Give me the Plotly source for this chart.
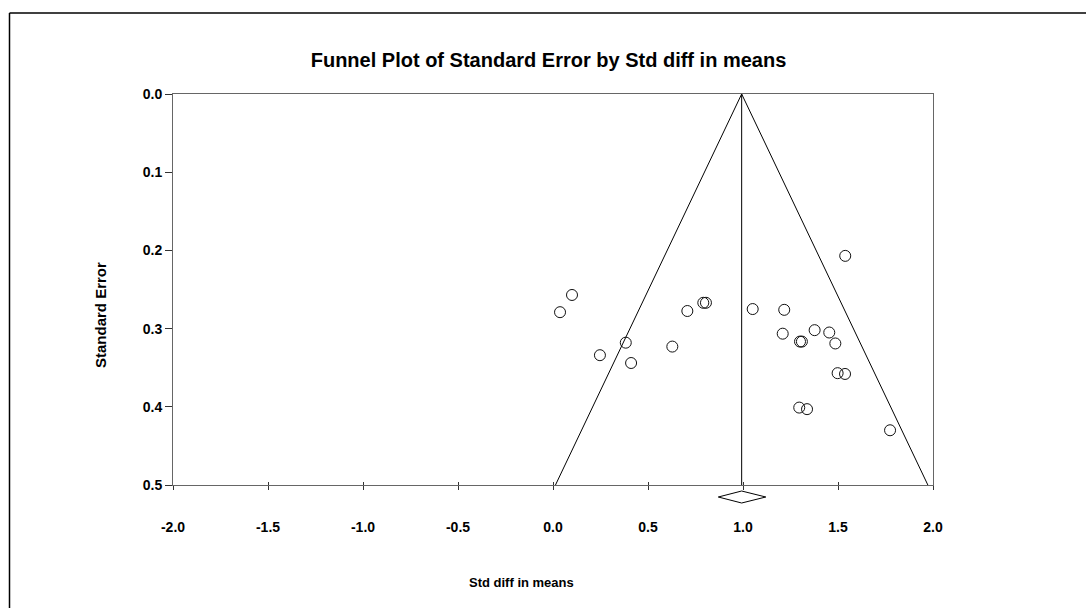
import plotly.graph_objects as go

# ---- data ----
std_diff = [0.10, 0.037, 0.247, 0.383, 0.411, 0.628,
            0.707, 0.791, 0.805, 1.051, 1.217, 1.209,
            1.30, 1.31, 1.377, 1.454, 1.486, 1.498, 1.537,
            1.296, 1.337, 1.774, 1.538]
std_err = [0.257, 0.279, 0.334, 0.318, 0.344, 0.323,
           0.2775, 0.267, 0.267, 0.275, 0.276, 0.3065,
           0.3166, 0.3166, 0.302, 0.305, 0.319, 0.357, 0.358,
           0.401, 0.403, 0.430, 0.207]
pooled_effect = 0.993
ci_low = 0.87
ci_high = 1.12
se_max = 0.5
z = 1.96
x_ticks = [-2.0, -1.5, -1.0, -0.5, 0.0, 0.5, 1.0, 1.5, 2.0]
x_tick_labels = ["-2.0", "-1.5", "-1.0", "-0.5", "0.0", "0.5", "1.0", "1.5", "2.0"]
y_ticks = [0.0, 0.1, 0.2, 0.3, 0.4, 0.5]
y_tick_labels = ["0.0", "0.1", "0.2", "0.3", "0.4", "0.5"]

# ---- layout geometry (pixels) ----
W, H = 1086, 608
L, R = 173, 933
T, B_main, B_all = 94, 485, 510
px_per_se = (B_main - T) / se_max
d_split = (B_all - B_main) / (B_all - T)
y2_bottom = se_max + (B_all - B_main) / px_per_se

def px_x(p):
    return (p - L) / (R - L)

def px_y(p):
    return (B_all - p) / (B_all - T)

FONT = "Liberation Sans"
BLK = "#000000"

fig = go.Figure()

# funnel
fig.add_trace(go.Scatter(
    x=[pooled_effect - z * se_max, pooled_effect, pooled_effect + z * se_max],
    y=[se_max, 0, se_max], mode="lines",
    line=dict(color=BLK, width=1), hoverinfo="skip", showlegend=False))
# vertical line at pooled effect
fig.add_trace(go.Scatter(
    x=[pooled_effect, pooled_effect], y=[0, se_max], mode="lines",
    line=dict(color=BLK, width=1), hoverinfo="skip", showlegend=False))
# studies
fig.add_trace(go.Scatter(
    x=std_diff, y=std_err, mode="markers",
    marker=dict(symbol="circle-open", size=11, color="#111",
                line=dict(width=1, color="#111")),
    showlegend=False))
# summary diamond below axis
dy_c = se_max + 12 / px_per_se
half_h = 6 / px_per_se
fig.add_trace(go.Scatter(
    x=[ci_low, pooled_effect, ci_high, pooled_effect, ci_low],
    y=[dy_c, dy_c - half_h, dy_c, dy_c + half_h, dy_c],
    yaxis="y2", mode="lines", line=dict(color=BLK, width=1),
    hoverinfo="skip", showlegend=False))

axis_font = dict(family=FONT, size=14, color=BLK, weight="bold")

fig.update_layout(
    width=W, height=H,
    margin=dict(l=L, r=W - R, t=T, b=H - B_all),
    paper_bgcolor="white", plot_bgcolor="white",
    font=dict(family=FONT, color=BLK),
    xaxis=dict(range=[-2, 2], tickvals=x_ticks, ticktext=x_tick_labels,
               showgrid=False, zeroline=False, showline=True,
               linecolor="#666", linewidth=1, mirror=True,
               ticks="outside", ticklen=4, tickcolor="#333",
               tickfont=axis_font, ticklabelstandoff=25,
               anchor="y"),
    xaxis2=dict(range=[-2, 2], tickvals=x_ticks, overlaying="x",
                anchor="y", showgrid=False, zeroline=False,
                showline=False, ticks="inside", ticklen=3,
                tickcolor="#333", showticklabels=False),
    yaxis=dict(range=[se_max, 0], tickvals=y_ticks, ticktext=y_tick_labels,
               domain=[d_split, 1], showgrid=False, zeroline=False,
               showline=True, linecolor="#666", linewidth=1, mirror=True,
               ticks="outside", ticklen=7, tickcolor="#333",
               tickfont=axis_font, anchor="x"),
    yaxis2=dict(range=[y2_bottom, se_max], domain=[0, d_split],
                visible=False, anchor="x"),
    title=dict(text="Funnel Plot of Standard Error by Std diff in means",
               font=dict(family=FONT, size=20, color=BLK, weight="bold"),
               xref="paper", x=px_x(548.5), xanchor="center",
               yref="container", y=1 - 60 / H, yanchor="middle"),
    annotations=[
        dict(text="Std diff in means", xref="paper", yref="paper",
             x=px_x(521), y=px_y(582), showarrow=False,
             xanchor="center", yanchor="middle",
             font=dict(family=FONT, size=13, color=BLK, weight="bold")),
        dict(text="Standard Error", xref="paper", yref="paper",
             x=px_x(100), y=px_y(315), showarrow=False, textangle=-90,
             xanchor="center", yanchor="middle",
             font=dict(family=FONT, size=15, color=BLK, weight="bold")),
    ],
    shapes=[
        dict(type="line", xref="paper", yref="paper",
             x0=px_x(9.5), x1=px_x(1200), y0=px_y(13), y1=px_y(13),
             line=dict(color=BLK, width=1.5)),
        dict(type="line", xref="paper", yref="paper",
             x0=px_x(9.5), x1=px_x(9.5), y0=px_y(13), y1=px_y(700),
             line=dict(color=BLK, width=1.5)),
    ],
)

# empty trace so the overlaying axis (crossing ticks) is drawn
fig.add_trace(go.Scatter(x=[None], y=[None], xaxis="x2", showlegend=False,
                         hoverinfo="skip"))

fig.write_html("out.html",
               config={"displayModeBar": False},
               post_script="document.body.style.margin='0';")
